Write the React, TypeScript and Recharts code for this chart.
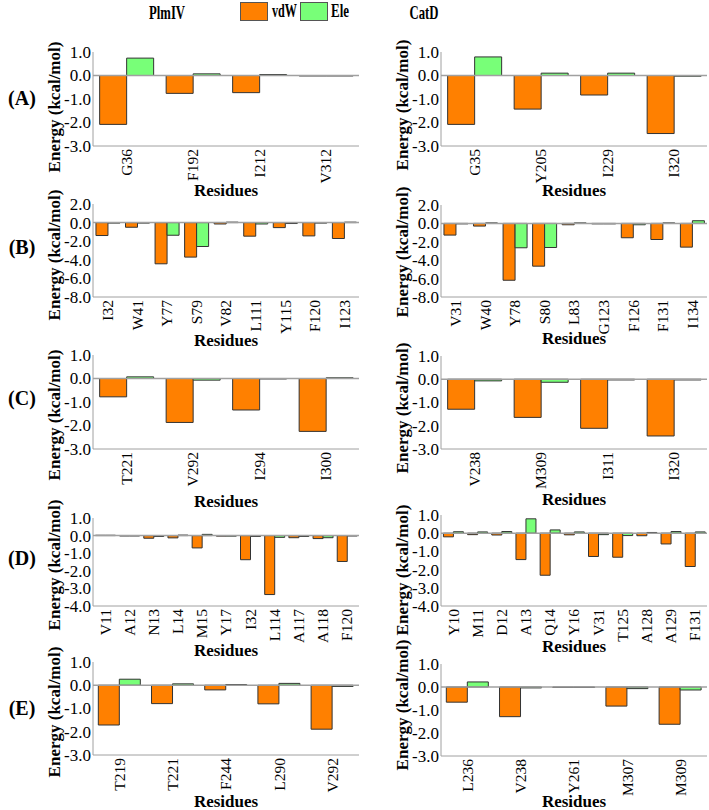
import React from 'react';
import { BarChart, Bar, XAxis, YAxis, ReferenceLine } from 'recharts';

const FONT = '"Liberation Serif", "Times New Roman", serif';
const ORANGE = '#FF8000';
const GREEN = '#78FF78';
const AXIS = '#a0a0a0';

// Titles / legend
const columnTitles = ['PlmIV', 'CatD'];
const rowLabels = ['(A)', '(B)', '(C)', '(D)', '(E)'];
const seriesNames = ['vdW', 'Ele'];

// Row A
const resA1 = ['G36', 'F192', 'I212', 'V312'];
const vdwA1 = [-2.08, -0.76, -0.73, -0.02];
const eleA1 = [0.74, 0.07, 0.04, -0.02];
const resA2 = ['G35', 'Y205', 'I229', 'I320'];
const vdwA2 = [-2.08, -1.43, -0.83, -2.47];
const eleA2 = [0.79, 0.1, 0.1, -0.03];
// Row B
const resB1 = ['I32', 'W41', 'Y77', 'S79', 'V82', 'L111', 'Y115', 'F120', 'I123'];
const vdwB1 = [-1.39, -0.5, -4.43, -3.71, -0.15, -1.46, -0.54, -1.43, -1.71];
const eleB1 = [-0.05, -0.05, -1.36, -2.57, 0.05, -0.15, -0.1, -0.05, 0.05];
const resB2 = ['V31', 'W40', 'Y78', 'S80', 'L83', 'G123', 'F126', 'F131', 'I134'];
const vdwB2 = [-1.27, -0.29, -6.18, -4.65, -0.15, -0.05, -1.56, -1.75, -2.58];
const eleB2 = [-0.05, 0.05, -2.65, -2.62, 0.05, -0.05, -0.15, 0.05, 0.29];
// Row C
const resC1 = ['T221', 'V292', 'I294', 'I300'];
const vdwC1 = [-0.78, -1.87, -1.34, -2.25];
const eleC1 = [0.07, -0.07, -0.02, 0.03];
const resC2 = ['V238', 'M309', 'I311', 'I320'];
const vdwC2 = [-1.29, -1.64, -2.11, -2.44];
const eleC2 = [-0.07, -0.13, -0.03, -0.03];
// Row D
const resD1 = ['V11', 'A12', 'N13', 'L14', 'M15', 'Y17', 'I32', 'L114', 'A117', 'A118', 'F120'];
const vdwD1 = [0.02, -0.02, -0.15, -0.13, -0.7, -0.03, -1.37, -3.35, -0.12, -0.17, -1.47];
const eleD1 = [0.02, -0.02, -0.05, 0.03, 0.07, -0.03, -0.05, -0.1, -0.05, -0.12, -0.02];
const resD2 = ['Y10', 'M11', 'D12', 'A13', 'Q14', 'Y16', 'V31', 'T125', 'A128', 'A129', 'F131'];
const vdwD2 = [-0.2, -0.08, -0.1, -1.45, -2.31, -0.09, -1.28, -1.32, -0.14, -0.59, -1.83];
const eleD2 = [0.08, 0.07, 0.09, 0.79, 0.18, 0.07, -0.08, -0.13, 0.04, 0.09, 0.07];
// Row E
const resE1 = ['T219', 'T221', 'F244', 'L290', 'V292'];
const vdwE1 = [-1.71, -0.79, -0.2, -0.8, -1.89];
const eleE1 = [0.26, 0.06, 0.03, 0.08, -0.05];
const resE2 = ['L236', 'V238', 'Y261', 'M307', 'M309'];
const vdwE2 = [-0.66, -1.29, -0.02, -0.83, -1.62];
const eleE2 = [0.22, -0.04, -0.02, -0.07, -0.13];

const ticks1 = [1, 0, -1, -2, -3];
const ticksB = [2, 0, -2, -4, -6, -8];
const ticksD = [1, 0, -1, -2, -3, -4];

const XTICK_FS = 15.5;
const YTICK_FS = 17;

const RotTick = (props: any) => {
  const { x, y, payload } = props;
  const yy = y + 3;
  return (
    <text
      x={x}
      y={yy}
      transform={`rotate(-90, ${x}, ${yy})`}
      textAnchor="end"
      dy="0.35em"
      fontFamily={FONT}
      fontSize={XTICK_FS}
      fill="#000"
    >
      {payload.value}
    </text>
  );
};

const YTick = (props: any) => {
  const { x, y, payload } = props;
  return (
    <text x={x} y={y} dy="0.35em" textAnchor="end" fontFamily={FONT} fontSize={YTICK_FS} fill="#000">
      {Number(payload.value).toFixed(1)}
    </text>
  );
};

type PanelProps = {
  res: string[];
  vdw: number[];
  ele: number[];
  x: number;
  top: number;
  bottom: number;
  ticks: number[];
  energyCy: number;
  residuesY: number;
};

const PLOT_W = 266;
const YW = 62;
const MT = 12;
const XH = 48;

function Panel({ res, vdw, ele, x, top, bottom, ticks, energyCy, residuesY }: PanelProps) {
  const data = res.map((r, i) => ({ res: r, vdw: vdw[i], ele: ele[i] }));
  const plotH = bottom - top;
  const ymax = ticks[0];
  const ymin = ticks[ticks.length - 1];
  const labelX = x - 39;
  return (
    <>
      <div style={{ position: 'absolute', left: x - YW, top: top - MT }}>
        <BarChart
          width={YW + PLOT_W + 2}
          height={MT + plotH + XH}
          data={data}
          margin={{ top: MT, right: 2, left: 0, bottom: 0 }}
          barCategoryGap="10%"
          barGap={0}
        >
          <XAxis
            dataKey="res"
            height={XH}
            interval={0}
            tick={<RotTick />}
            axisLine={{ stroke: AXIS }}
            tickLine={false}
            tickSize={0}
            tickMargin={0}
          />
          <YAxis
            width={YW}
            domain={[ymin, ymax]}
            ticks={ticks}
            interval={0}
            allowDataOverflow
            axisLine={{ stroke: AXIS }}
            tickLine={false}
            tickSize={0}
            tickMargin={2}
            tick={<YTick />}
          />
          <ReferenceLine y={0} stroke={AXIS} strokeWidth={1.5} />
          <Bar dataKey="vdw" fill={ORANGE} stroke="#333" strokeWidth={1} isAnimationActive={false} />
          <Bar dataKey="ele" fill={GREEN} stroke="#333" strokeWidth={1} isAnimationActive={false} />
        </BarChart>
      </div>
      <svg style={{ position: 'absolute', left: 0, top: 0, overflow: 'visible', pointerEvents: 'none' }} width={1} height={1}>
        <text
          x={labelX}
          y={energyCy}
          transform={`rotate(-90, ${labelX}, ${energyCy})`}
          textAnchor="middle"
          dy="0.35em"
          fontFamily={FONT}
          fontWeight="bold"
          fontSize={17}
          fill="#000"
        >
          Energy (kcal/mol)
        </text>
        <text
          x={x + PLOT_W / 2}
          y={residuesY}
          textAnchor="middle"
          fontFamily={FONT}
          fontWeight="bold"
          fontSize={17}
          fill="#000"
        >
          Residues
        </text>
      </svg>
    </>
  );
}

const LX = 93;
const RX = 441;

export default function App() {
  const rowY = [98, 247, 398, 558, 708];
  return (
    <div style={{ position: 'absolute', left: 0, top: 0, width: 709, height: 810, background: '#fff', overflow: 'hidden' }}>
      <svg style={{ position: 'absolute', left: 0, top: 0 }} width={709} height={810}>
        <text x={167} y={19} textAnchor="middle" fontFamily={FONT} fontWeight="bold" fontSize={19} textLength={36} lengthAdjust="spacingAndGlyphs">{columnTitles[0]}</text>
        <text x={424} y={19} textAnchor="middle" fontFamily={FONT} fontWeight="bold" fontSize={19} textLength={29} lengthAdjust="spacingAndGlyphs">{columnTitles[1]}</text>
        <rect x={240.5} y={2.5} width={27} height={18} fill={ORANGE} stroke="#555" />
        <text x={272} y={17} fontFamily={FONT} fontWeight="bold" fontSize={18} textLength={25} lengthAdjust="spacingAndGlyphs">{seriesNames[0]}</text>
        <rect x={300.5} y={2.5} width={27} height={18} fill={GREEN} stroke="#555" />
        <text x={331} y={17} fontFamily={FONT} fontWeight="bold" fontSize={18} textLength={18} lengthAdjust="spacingAndGlyphs">{seriesNames[1]}</text>
        {rowLabels.map((l, i) => (
          <text key={l} x={22} y={rowY[i]} dy="0.35em" textAnchor="middle" fontFamily={FONT} fontWeight="bold" fontSize={20}>{l}</text>
        ))}
      </svg>
      <Panel res={resA1} vdw={vdwA1} ele={eleA1} x={LX} top={52} bottom={146} ticks={ticks1} energyCy={107} residuesY={196} />
      <Panel res={resA2} vdw={vdwA2} ele={eleA2} x={RX} top={52} bottom={146} ticks={ticks1} energyCy={105} residuesY={196} />
      <Panel res={resB1} vdw={vdwB1} ele={eleB1} x={LX} top={204} bottom={297} ticks={ticksB} energyCy={255} residuesY={346} />
      <Panel res={resB2} vdw={vdwB2} ele={eleB2} x={RX} top={205} bottom={297} ticks={ticksB} energyCy={252} residuesY={344} />
      <Panel res={resC1} vdw={vdwC1} ele={eleC1} x={LX} top={355} bottom={449} ticks={ticks1} energyCy={415} residuesY={507} />
      <Panel res={resC2} vdw={vdwC2} ele={eleC2} x={RX} top={356} bottom={449} ticks={ticks1} energyCy={408} residuesY={505} />
      <Panel res={resD1} vdw={vdwD1} ele={eleD1} x={LX} top={518} bottom={606} ticks={ticksD} energyCy={565} residuesY={656} />
      <Panel res={resD2} vdw={vdwD2} ele={eleD2} x={RX} top={515} bottom={606} ticks={ticksD} energyCy={570} residuesY={652} />
      <Panel res={resE1} vdw={vdwE1} ele={eleE1} x={LX} top={662} bottom={755} ticks={ticks1} energyCy={712} residuesY={807} />
      <Panel res={resE2} vdw={vdwE2} ele={eleE2} x={RX} top={664} bottom={756} ticks={ticks1} energyCy={705} residuesY={807} />
    </div>
  );
}
